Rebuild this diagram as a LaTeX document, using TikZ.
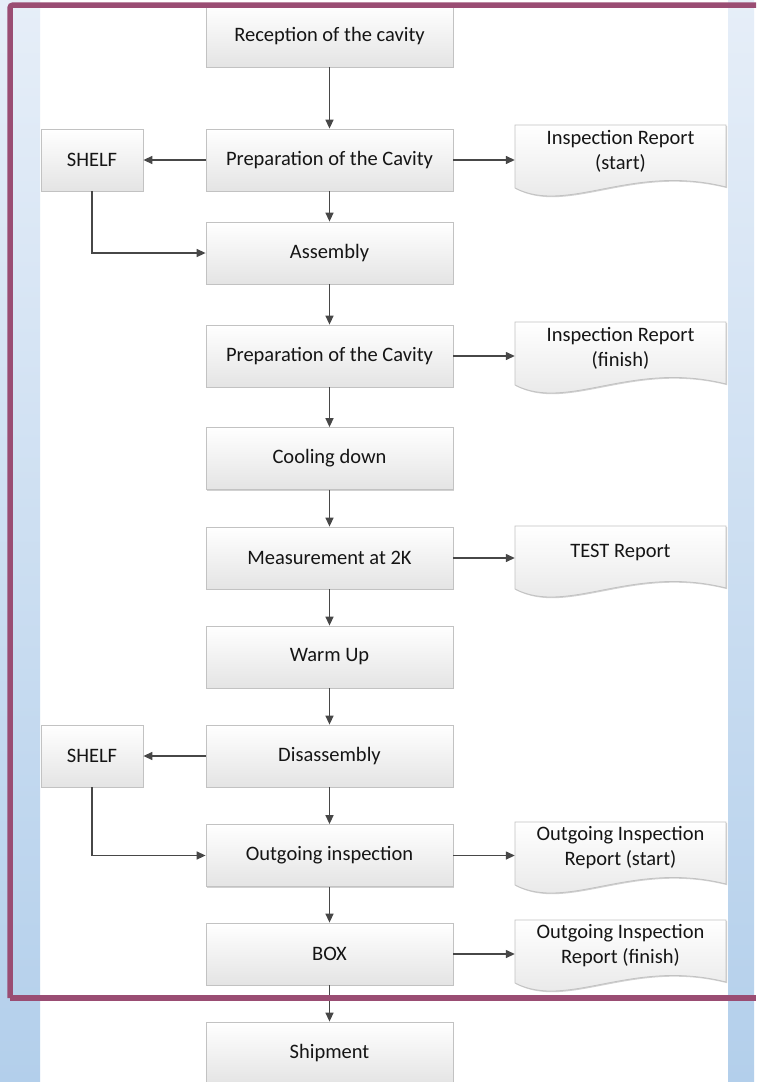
\documentclass[tikz,border=0pt]{standalone}
\usepackage{fontspec}
\setmainfont{Carlito}
\usetikzlibrary{arrows.meta,calc,shadows}
\pgfdeclarelayer{bg}
\pgfdeclarelayer{docs}
\pgfsetlayers{bg,docs,main}
\definecolor{stripTop}{HTML}{E6EEF8}
\definecolor{stripBot}{HTML}{B3CFEB}
\definecolor{framecol}{HTML}{9A4D73}
\definecolor{boxline}{HTML}{C2C2C2}
\definecolor{boxbot}{HTML}{E4E4E4}
\definecolor{arrcol}{HTML}{474747}
\definecolor{txt}{HTML}{151515}
\newcommand{\docshape}[1]{%
  \begin{pgfonlayer}{docs}
  \path[docdraw] ($(#1.center)+(-105.5,-26)$) -- ($(#1.center)+(105.5,-26)$) -- ($(#1.center)+(105.5,36)$)
    .. controls ($(#1.center)+(10.5,12)$) and ($(#1.center)+(-52.75,64)$) .. ($(#1.center)+(-105.5,37)$) -- cycle;
  \end{pgfonlayer}}
\tikzset{
  procbox/.style={draw=boxline, line width=0.8pt, top color=white, bottom color=boxbot,
    minimum width=247, minimum height=62, inner sep=0pt, text=txt,
    font=\fontsize{20.5}{25}\selectfont,
    drop shadow={shadow xshift=1.2pt, shadow yshift=-1.2pt, opacity=.18, fill=black}},
  shelfbox/.style={procbox, minimum width=102},
  doctext/.style={minimum width=211, minimum height=10, inner sep=0pt, align=center, text=txt,
    font=\fontsize{20.5}{25}\selectfont},
  docdraw/.style={draw=boxline, line width=0.8pt, top color=white, bottom color=boxbot,
    drop shadow={shadow xshift=1.2pt, shadow yshift=-1.2pt, opacity=.18, fill=black}},
  arr/.style={draw=arrcol, line width=1.4pt, -{Triangle[length=9pt,width=8pt]}},
}
\begin{document}
\begin{tikzpicture}[x=1pt,y=-1pt]
\useasboundingbox (0,0) rectangle (756,1082);
\begin{pgfonlayer}{bg}
\fill[white] (0,0) rectangle (756,1082);
\shade[top color=stripTop, bottom color=stripBot] (0,0) rectangle (40,1082);
\shade[top color=stripTop, bottom color=stripBot] (728,0) rectangle (754,1082);
\end{pgfonlayer}

\node[procbox] (rec) at (329.5,36) {Reception of the cavity};
\node[procbox] (prep1) at (329.5,160) {Preparation of the Cavity};
\node[procbox] (asm) at (329.5,253) {Assembly};
\node[procbox] (prep2) at (329.5,356) {Preparation of the Cavity};
\node[procbox] (cool) at (329.5,458.5) {Cooling down};
\node[procbox] (meas) at (329.5,558) {Measurement at 2K};
\node[procbox] (warm) at (329.5,657) {Warm Up};
\node[procbox] (dis) at (329.5,756) {Disassembly};
\node[procbox] (out) at (329.5,855.5) {Outgoing inspection};
\node[procbox] (box) at (329.5,954) {BOX};
\node[procbox] (ship) at (329.5,1053) {Shipment};

\node[shelfbox] (shelf1) at (92,160) {SHELF};
\node[shelfbox] (shelf2) at (92,756) {SHELF};

\node[doctext] (doc1) at (620.5,151) {Inspection Report\\(start)};
\node[doctext] (doc2) at (620.5,348) {Inspection Report\\(finish)};
\node[doctext] (doc3) at (620.5,552) {TEST Report};
\node[doctext] (doc4) at (620.5,848) {Outgoing Inspection\\Report (start)};
\node[doctext] (doc5) at (620.5,946) {Outgoing Inspection\\Report (finish)};
\docshape{doc1}
\docshape{doc2}
\docshape{doc3}
\docshape{doc4}
\docshape{doc5}

\draw[arr] (rec) -- (prep1);
\draw[arr] (prep1) -- (asm);
\draw[arr] (asm) -- (prep2);
\draw[arr] (prep2) -- (cool);
\draw[arr] (cool) -- (meas);
\draw[arr] (meas) -- (warm);
\draw[arr] (warm) -- (dis);
\draw[arr] (dis) -- (out);
\draw[arr] (out) -- (box);
\draw[arr] (box) -- (ship);

\draw[arr] (prep1.west) -- (shelf1.east);
\draw[arr] (dis.west) -- (shelf2.east);
\draw[arr] (shelf1.south) |- (asm.west);
\draw[arr] (shelf2.south) |- (out.west);

\draw[arr] (prep1.east) -- (prep1.east -| doc1.west);
\draw[arr] (prep2.east) -- (prep2.east -| doc2.west);
\draw[arr] (meas.east) -- (meas.east -| doc3.west);
\draw[arr] (out.east) -- (out.east -| doc4.west);
\draw[arr] (box.east) -- (box.east -| doc5.west);

\draw[draw=framecol, line width=5.5pt, rounded corners=3pt] (10,998) -- (10,5) -- (756,5);
\draw[draw=framecol, line width=5.5pt, rounded corners=3pt] (10,998) -- (756,998);
\end{tikzpicture}
\end{document}
